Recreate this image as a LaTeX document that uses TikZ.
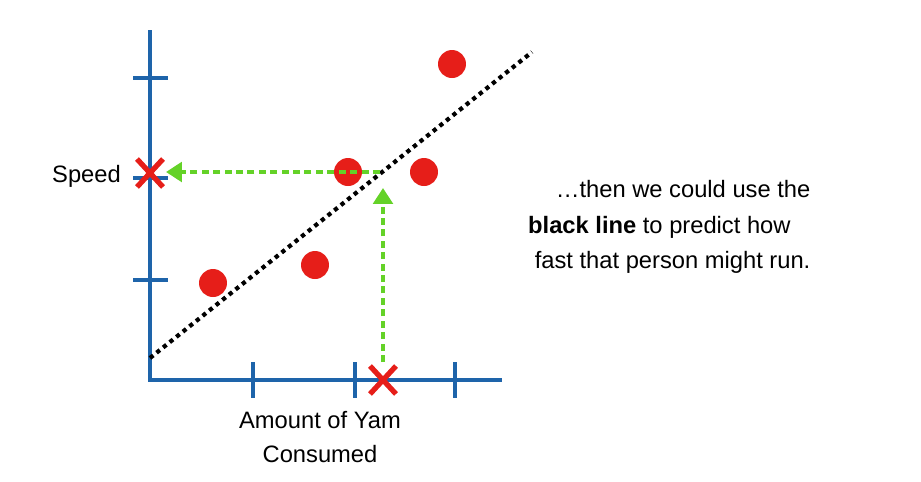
\documentclass[tikz,border=0pt]{standalone}
\usepackage{fontspec}
\setmainfont{Liberation Sans}
\usetikzlibrary{arrows.meta,calc}
\definecolor{axisblue}{RGB}{30,100,170}
\definecolor{dotred}{RGB}{230,30,25}
\definecolor{arrgreen}{RGB}{100,210,40}
\tikzstyle{dot}=[circle,fill=dotred,minimum size=.56cm,inner sep=0pt]
\tikzstyle{axis}=[axisblue,line width=2.4pt]
\tikzstyle{guess}=[arrgreen,line width=2.6pt,dash pattern=on 4pt off 2.5pt,-{Triangle[length=9pt,width=11pt]}]
\tikzstyle{cross}=[dotred,line width=3pt]
\tikzstyle{lbl}=[font=\fontsize{13.5}{17}\selectfont,align=center]

\begin{document}
\begin{tikzpicture}[x=0.02cm,y=-0.02cm]
\useasboundingbox (0,0) rectangle (921,481);
% axes
\coordinate (o) at (150,380); \coordinate (ytop) at (150,30); \coordinate (xend) at (502,380);
\draw[axis] (ytop) -- (o) -- (xend);
\foreach \y in {78,178,280} \draw[axis] (133,\y) -- (168,\y);
\foreach \x in {253,355,455} \draw[axis] (\x,362) -- (\x,398);
% data
\node[dot] (p1) at (213,283) {};
\node[dot] (p2) at (315,265) {};
\node[dot] (p3) at (348,172) {};
\node[dot] (p4) at (424,172) {};
\node[dot] (p5) at (452,64) {};
% fitted line
\coordinate (l0) at (150,358); \coordinate (l1) at (532,52);
\draw[black,line width=2.4pt,dash pattern=on 2.4pt off 2.4pt] (l0) -- (l1);
% crosses
\coordinate (cy) at (150,173); \coordinate (cx) at (383,380);
\draw[cross] ($(cy)+(-13,-14)$) -- ($(cy)+(13,14)$) ($(cy)+(-13,14)$) -- ($(cy)+(13,-14)$);
\draw[cross] ($(cx)+(-13,-14)$) -- ($(cx)+(13,14)$) ($(cx)+(-13,14)$) -- ($(cx)+(13,-14)$);
% guesses
\coordinate (g0) at (383,362); \coordinate (g1) at (383,188);
\coordinate (h0) at (380,172); \coordinate (h1) at (166,172);
\draw[guess] (g0) -- (g1);
\draw[guess] (h0) -- (h1);
% labels
\node[lbl,anchor=east] (speed) at (127,176) {Speed};
\node[lbl] (xlab) at (320,437) {Amount of Yam\\[2pt]Consumed};
\node[lbl,align=left,anchor=west] (note) at (522,227) {\quad\,…then we could use the\\[3pt]\textbf{black line} to predict how\\[3pt]\ fast that person might run.};
\end{tikzpicture}
\end{document}
